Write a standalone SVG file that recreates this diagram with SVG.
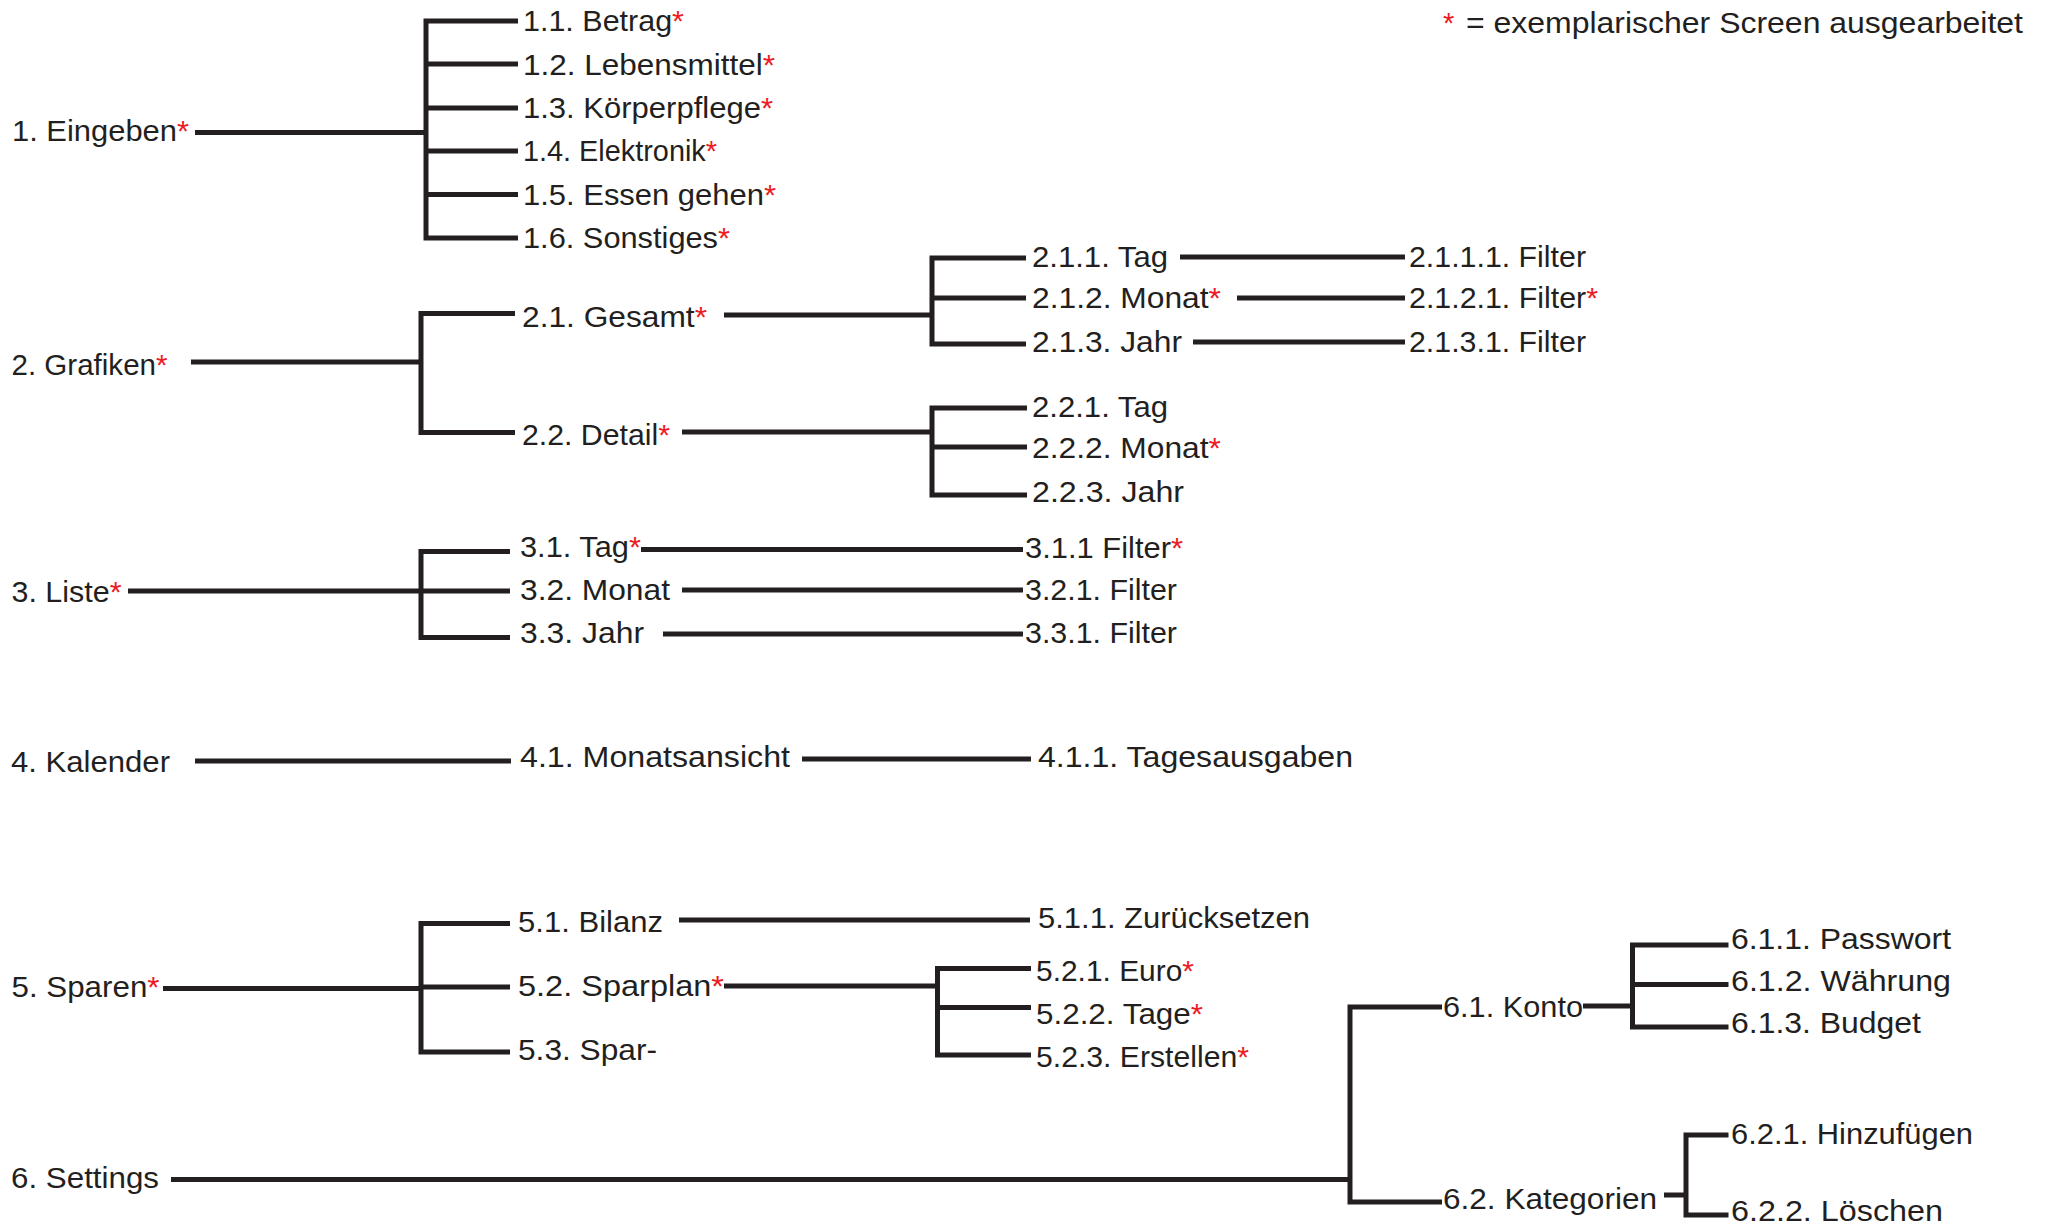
<svg xmlns="http://www.w3.org/2000/svg" width="2049" height="1226" viewBox="0 0 2049 1226">
<style>
text{font-family:"Liberation Sans",Arial,sans-serif;font-size:29px;fill:#231f20}
.r{fill:#ed1c24}
.c path{fill:none;stroke:#231f20;stroke-width:5;stroke-linejoin:miter;stroke-linecap:butt}
</style>
<rect width="2049" height="1226" fill="#ffffff"/>
<g class="c" id="connectors">
<path d="M195,132.5 H426"/>
<path d="M518,21 H426 V238 H518"/>
<path d="M426,64 H518 M426,108 H518 M426,151 H518 M426,194.5 H518"/>
<path d="M191,362 H421"/>
<path d="M515,313.5 H421 V432.5 H515"/>
<path d="M724,315 H932"/>
<path d="M1026,258 H932 V344 H1026 M932,298 H1026"/>
<path d="M1180,257 H1405 M1237,298 H1405 M1193,342 H1405"/>
<path d="M682,432 H932"/>
<path d="M1027,408 H932 V495 H1027 M932,447 H1027"/>
<path d="M128,591 H421"/>
<path d="M510,551.5 H421 V637.5 H510 M421,591 H510"/>
<path d="M641,549.5 H1023 M682,590 H1023 M663,634 H1023"/>
<path d="M195,761 H511 M802,759 H1031"/>
<path d="M163,988.5 H421"/>
<path d="M510,923.5 H421 V1052 H510 M421,987 H510"/>
<path d="M679,920 H1030"/>
<path d="M724,986 H937.5"/>
<path d="M1031,968.5 H937.5 V1055 H1031 M937.5,1007.5 H1031"/>
<path d="M171,1179.5 H1350"/>
<path d="M1442,1007 H1350 V1202 H1442"/>
<path d="M1583,1006 H1632.5"/>
<path d="M1728.5,945 H1632.5 V1027 H1728.5 M1632.5,984.5 H1728.5"/>
<path d="M1664,1195 H1686"/>
<path d="M1728.5,1135 H1686 V1215 H1728.5"/>
</g>
<g id="legend"><text x="1443" y="33" font-size="30"><tspan class="r">*</tspan></text><text x="1466" y="33" font-size="30" textLength="557" lengthAdjust="spacingAndGlyphs">= exemplarischer Screen ausgearbeitet</text></g>
<g id="n1"><text x="12" y="141" textLength="177" lengthAdjust="spacingAndGlyphs">1. Eingeben<tspan class="r">*</tspan></text></g>
<g id="n1_1"><text x="523" y="31" textLength="161" lengthAdjust="spacingAndGlyphs">1.1. Betrag<tspan class="r">*</tspan></text></g>
<g id="n1_2"><text x="523" y="74.5" textLength="252" lengthAdjust="spacingAndGlyphs">1.2. Lebensmittel<tspan class="r">*</tspan></text></g>
<g id="n1_3"><text x="523" y="118" textLength="250" lengthAdjust="spacingAndGlyphs">1.3. Körperpflege<tspan class="r">*</tspan></text></g>
<g id="n1_4"><text x="523" y="161" textLength="194" lengthAdjust="spacingAndGlyphs">1.4. Elektronik<tspan class="r">*</tspan></text></g>
<g id="n1_5"><text x="523" y="204.5" textLength="253" lengthAdjust="spacingAndGlyphs">1.5. Essen gehen<tspan class="r">*</tspan></text></g>
<g id="n1_6"><text x="523" y="247.5" textLength="207" lengthAdjust="spacingAndGlyphs">1.6. Sonstiges<tspan class="r">*</tspan></text></g>
<g id="n2"><text x="11.5" y="375" textLength="156" lengthAdjust="spacingAndGlyphs">2. Grafiken<tspan class="r">*</tspan></text></g>
<g id="n2_1"><text x="522" y="327" textLength="185" lengthAdjust="spacingAndGlyphs">2.1. Gesamt<tspan class="r">*</tspan></text></g>
<g id="n2_1_1"><text x="1032" y="267" textLength="136" lengthAdjust="spacingAndGlyphs">2.1.1. Tag</text></g>
<g id="n2_1_1_1"><text x="1409" y="267" textLength="177" lengthAdjust="spacingAndGlyphs">2.1.1.1. Filter</text></g>
<g id="n2_1_2"><text x="1032" y="308" textLength="189" lengthAdjust="spacingAndGlyphs">2.1.2. Monat<tspan class="r">*</tspan></text></g>
<g id="n2_1_2_1"><text x="1409" y="308" textLength="189" lengthAdjust="spacingAndGlyphs">2.1.2.1. Filter<tspan class="r">*</tspan></text></g>
<g id="n2_1_3"><text x="1032" y="351.5" textLength="150" lengthAdjust="spacingAndGlyphs">2.1.3. Jahr</text></g>
<g id="n2_1_3_1"><text x="1409" y="351.5" textLength="177" lengthAdjust="spacingAndGlyphs">2.1.3.1. Filter</text></g>
<g id="n2_2"><text x="522" y="445" textLength="148" lengthAdjust="spacingAndGlyphs">2.2. Detail<tspan class="r">*</tspan></text></g>
<g id="n2_2_1"><text x="1032" y="417" textLength="136" lengthAdjust="spacingAndGlyphs">2.2.1. Tag</text></g>
<g id="n2_2_2"><text x="1032" y="458" textLength="189" lengthAdjust="spacingAndGlyphs">2.2.2. Monat<tspan class="r">*</tspan></text></g>
<g id="n2_2_3"><text x="1032" y="501.5" textLength="152" lengthAdjust="spacingAndGlyphs">2.2.3. Jahr</text></g>
<g id="n3"><text x="11.5" y="601.5" textLength="110" lengthAdjust="spacingAndGlyphs">3. Liste<tspan class="r">*</tspan></text></g>
<g id="n3_1"><text x="520" y="557" textLength="121" lengthAdjust="spacingAndGlyphs">3.1. Tag<tspan class="r">*</tspan></text></g>
<g id="n3_1_1"><text x="1025" y="558" textLength="158" lengthAdjust="spacingAndGlyphs">3.1.1 Filter<tspan class="r">*</tspan></text></g>
<g id="n3_2"><text x="520" y="600" textLength="150" lengthAdjust="spacingAndGlyphs">3.2. Monat</text></g>
<g id="n3_2_1"><text x="1025" y="600" textLength="152" lengthAdjust="spacingAndGlyphs">3.2.1. Filter</text></g>
<g id="n3_3"><text x="520" y="643" textLength="124" lengthAdjust="spacingAndGlyphs">3.3. Jahr</text></g>
<g id="n3_3_1"><text x="1025" y="643" textLength="152" lengthAdjust="spacingAndGlyphs">3.3.1. Filter</text></g>
<g id="n4"><text x="11" y="771.5" textLength="159" lengthAdjust="spacingAndGlyphs">4. Kalender</text></g>
<g id="n4_1"><text x="520" y="766.5" textLength="270" lengthAdjust="spacingAndGlyphs">4.1. Monatsansicht</text></g>
<g id="n4_1_1"><text x="1038" y="766.5" textLength="315" lengthAdjust="spacingAndGlyphs">4.1.1. Tagesausgaben</text></g>
<g id="n5"><text x="11.5" y="996.5" textLength="148" lengthAdjust="spacingAndGlyphs">5. Sparen<tspan class="r">*</tspan></text></g>
<g id="n5_1"><text x="518" y="931.5" textLength="145" lengthAdjust="spacingAndGlyphs">5.1. Bilanz</text></g>
<g id="n5_1_1"><text x="1038" y="927.5" textLength="272" lengthAdjust="spacingAndGlyphs">5.1.1. Zurücksetzen</text></g>
<g id="n5_2"><text x="518" y="995.5" textLength="206" lengthAdjust="spacingAndGlyphs">5.2. Sparplan<tspan class="r">*</tspan></text></g>
<g id="n5_2_1"><text x="1036" y="981" textLength="158" lengthAdjust="spacingAndGlyphs">5.2.1. Euro<tspan class="r">*</tspan></text></g>
<g id="n5_2_2"><text x="1036" y="1024" textLength="167" lengthAdjust="spacingAndGlyphs">5.2.2. Tage<tspan class="r">*</tspan></text></g>
<g id="n5_2_3"><text x="1036" y="1066.5" textLength="213" lengthAdjust="spacingAndGlyphs">5.2.3. Erstellen<tspan class="r">*</tspan></text></g>
<g id="n5_3"><text x="518" y="1060" textLength="139" lengthAdjust="spacingAndGlyphs">5.3. Spar-</text></g>
<g id="n6"><text x="11" y="1188" textLength="148" lengthAdjust="spacingAndGlyphs">6. Settings</text></g>
<g id="n6_1"><text x="1443" y="1016.5" textLength="140" lengthAdjust="spacingAndGlyphs">6.1. Konto</text></g>
<g id="n6_1_1"><text x="1731" y="949" textLength="220" lengthAdjust="spacingAndGlyphs">6.1.1. Passwort</text></g>
<g id="n6_1_2"><text x="1731" y="991" textLength="220" lengthAdjust="spacingAndGlyphs">6.1.2. Währung</text></g>
<g id="n6_1_3"><text x="1731" y="1033" textLength="190" lengthAdjust="spacingAndGlyphs">6.1.3. Budget</text></g>
<g id="n6_2"><text x="1443" y="1208.5" textLength="214" lengthAdjust="spacingAndGlyphs">6.2. Kategorien</text></g>
<g id="n6_2_1"><text x="1731" y="1143.5" textLength="242" lengthAdjust="spacingAndGlyphs">6.2.1. Hinzufügen</text></g>
<g id="n6_2_2"><text x="1731" y="1221" textLength="212" lengthAdjust="spacingAndGlyphs">6.2.2. Löschen</text></g>
</svg>
